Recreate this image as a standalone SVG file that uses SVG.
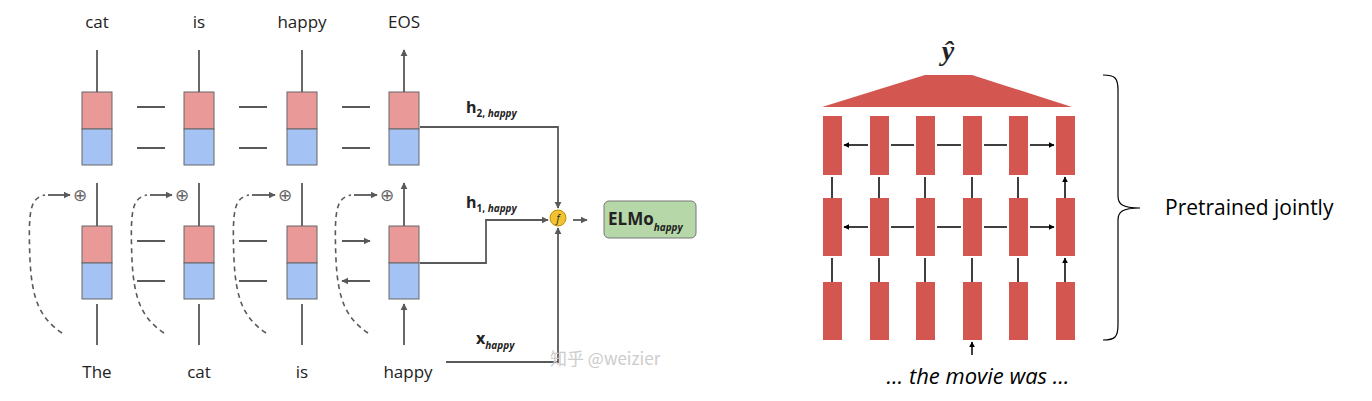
<svg xmlns="http://www.w3.org/2000/svg" width="1372" height="401" viewBox="0 0 1372 401">
<defs>
<marker id="ga" viewBox="0 0 10 10" refX="9" refY="5" markerWidth="4" markerHeight="4" orient="auto"><path d="M0,0L10,5L0,10z" fill="#595959"/></marker>
<marker id="ba" viewBox="0 0 10 10" refX="9" refY="5" markerWidth="4" markerHeight="4" orient="auto-start-reverse"><path d="M0,0L10,5L0,10z" fill="#000"/></marker>
</defs>
<style>
text{font-family:"Open Sans","Liberation Sans",sans-serif;fill:#222}
.w{font-size:17px;text-anchor:middle}
.g{stroke:#595959;stroke-width:1.8;fill:none}
.ga{stroke:#595959;stroke-width:1.8;fill:none;marker-end:url(#ga)}
.d{stroke:#595959;stroke-width:1.6;fill:none;stroke-dasharray:5,4}
.pk{fill:#ea9999;stroke:#666;stroke-width:1}
.bl{fill:#a4c2f4;stroke:#666;stroke-width:1}
.r{fill:#d35650}
.bk{stroke:#000;stroke-width:1.5;fill:none;marker-end:url(#ba)}
.bb{stroke:#000;stroke-width:1.5;fill:none;marker-end:url(#ba);marker-start:url(#ba)}
</style>
<g id="cells">
<g id="c1"><rect class="pk" x="82" y="92" width="30" height="37"/><rect class="bl" x="82" y="129" width="30" height="36"/><rect class="pk" x="82" y="226" width="30" height="37"/><rect class="bl" x="82" y="263" width="30" height="36"/></g>
<g id="c2"><rect class="pk" x="184" y="92" width="30" height="37"/><rect class="bl" x="184" y="129" width="30" height="36"/><rect class="pk" x="184" y="226" width="30" height="37"/><rect class="bl" x="184" y="263" width="30" height="36"/></g>
<g id="c3"><rect class="pk" x="287" y="92" width="30" height="37"/><rect class="bl" x="287" y="129" width="30" height="36"/><rect class="pk" x="287" y="226" width="30" height="37"/><rect class="bl" x="287" y="263" width="30" height="36"/></g>
<g id="c4"><rect class="pk" x="389" y="92" width="30" height="37"/><rect class="bl" x="389" y="129" width="30" height="36"/><rect class="pk" x="389" y="226" width="30" height="37"/><rect class="bl" x="389" y="263" width="30" height="36"/></g>
</g>
<g id="labels">
<text class="w" x="97" y="28">cat</text><text class="w" x="199" y="28">is</text><text class="w" x="302" y="28">happy</text><text class="w" x="404" y="28">EOS</text>
<text class="w" x="97" y="378">The</text><text class="w" x="199" y="378">cat</text><text class="w" x="302" y="378">is</text><text class="w" x="408" y="378">happy</text>
<g font-size="17" fill="#777" text-anchor="middle"><text x="80" y="201" style="fill:#666">⊕</text><text x="182" y="201" style="fill:#666">⊕</text><text x="285" y="201" style="fill:#666">⊕</text><text x="387" y="201" style="fill:#666">⊕</text></g>
<text x="466" y="113" font-weight="bold" font-size="16">h<tspan font-size="10" dy="4">2, </tspan><tspan font-size="10" font-style="italic">happy</tspan></text>
<text x="466" y="208" font-weight="bold" font-size="16">h<tspan font-size="10" dy="4">1, </tspan><tspan font-size="10" font-style="italic">happy</tspan></text>
<text x="476" y="344" font-weight="bold" font-size="16">x<tspan font-size="10" dy="5" font-style="italic">happy</tspan></text>
</g>
<g id="f"><circle cx="558" cy="218" r="8" fill="#f1c232" stroke="#bf9000"/><text x="558" y="222" font-size="10" font-style="italic" text-anchor="middle">f</text></g>
<g id="elmo"><rect x="604" y="201" width="92" height="37" rx="5" fill="#b6d7a8" stroke="#777"/><text x="608" y="225" font-weight="bold" font-size="17">ELMo<tspan font-size="10" font-style="italic" dy="6">happy</tspan></text></g>
<g id="connectors">
<path class="ga" d="M97,92V50M199,92V50M302,92V50M404,92V50"/>
<path class="ga" d="M97,226V183M199,226V183M302,226V183M404,226V183"/>
<path class="ga" d="M97,345V304M199,345V304M302,345V304M404,345V304"/>
<path class="ga" d="M137,107H165M239,107H267M342,107H370M137,241H165M239,241H267M342,241H370"/>
<path class="ga" d="M165,148H137M267,148H239M370,148H342M165,281H137M267,281H239M370,281H342"/>
<path class="d" d="M62,333C40,318 32,300 30,260C28,210 30,198 45,195"/><path class="ga" d="M48,195H70"/>
<path class="d" d="M164,333C142,318 134,300 132,260C130,210 132,198 147,195"/><path class="ga" d="M150,195H172"/>
<path class="d" d="M266,333C244,318 236,300 234,260C232,210 234,198 249,195"/><path class="ga" d="M252,195H275"/>
<path class="d" d="M368,333C346,318 338,300 336,260C334,210 336,198 351,195"/><path class="ga" d="M354,195H377"/>
<path class="ga" d="M420,127H558V208"/>
<path class="ga" d="M420,263H486V220H548"/>
<path class="ga" d="M446,362H558V228"/>
<path class="ga" d="M573,220H587"/>
</g>
<text x="550" y="365" font-size="17" style="fill:#ccc;font-family:'Noto Sans CJK SC',sans-serif">知乎 @weizier</text>
<g id="right">
<text x="948" y="60" font-size="28" font-weight="bold" font-style="italic" text-anchor="middle" style="font-family:'Liberation Serif',serif">ŷ</text>
<polygon class="r" points="925,75 972,75 1072,107 822,107"/>
<g id="bars">
<rect class="r" x="823" y="116" width="19" height="59"/><rect class="r" x="870" y="116" width="19" height="59"/><rect class="r" x="916" y="116" width="19" height="59"/><rect class="r" x="963" y="116" width="19" height="59"/><rect class="r" x="1009" y="116" width="19" height="59"/><rect class="r" x="1056" y="116" width="19" height="59"/>
<rect class="r" x="823" y="198" width="19" height="58"/><rect class="r" x="870" y="198" width="19" height="58"/><rect class="r" x="916" y="198" width="19" height="58"/><rect class="r" x="963" y="198" width="19" height="58"/><rect class="r" x="1009" y="198" width="19" height="58"/><rect class="r" x="1056" y="198" width="19" height="58"/>
<rect class="r" x="823" y="282" width="19" height="58"/><rect class="r" x="870" y="282" width="19" height="58"/><rect class="r" x="916" y="282" width="19" height="58"/><rect class="r" x="963" y="282" width="19" height="58"/><rect class="r" x="1009" y="282" width="19" height="58"/><rect class="r" x="1056" y="282" width="19" height="58"/>
</g>
<g id="rconn">
<path class="bb" d="M844,145H868M891,145H914M937,145H961M984,145H1007M1030,145H1054"/>
<path class="bb" d="M844,227H868M891,227H914M937,227H961M984,227H1007M1030,227H1054"/>
<path class="bk" d="M832,198V177M879,198V177M925,198V177M972,198V177M1018,198V177M1065,198V177"/>
<path class="bk" d="M832,282V258M879,282V258M925,282V258M972,282V258M1018,282V258M1065,282V258"/>
<path class="bk" d="M972,355V342"/>
</g>
<text x="978" y="384" font-size="22" font-style="italic" text-anchor="middle" style="fill:#000">… the movie was …</text>
<path d="M1103,75C1115,75 1118,78 1118,90V196C1118,204 1122,208 1140,208C1122,208 1118,212 1118,220V325C1118,337 1115,340 1103,340" fill="none" stroke="#000" stroke-width="1.2"/>
<text x="1165" y="215" font-size="21" style="fill:#000">Pretrained jointly</text>
</g>
</svg>
